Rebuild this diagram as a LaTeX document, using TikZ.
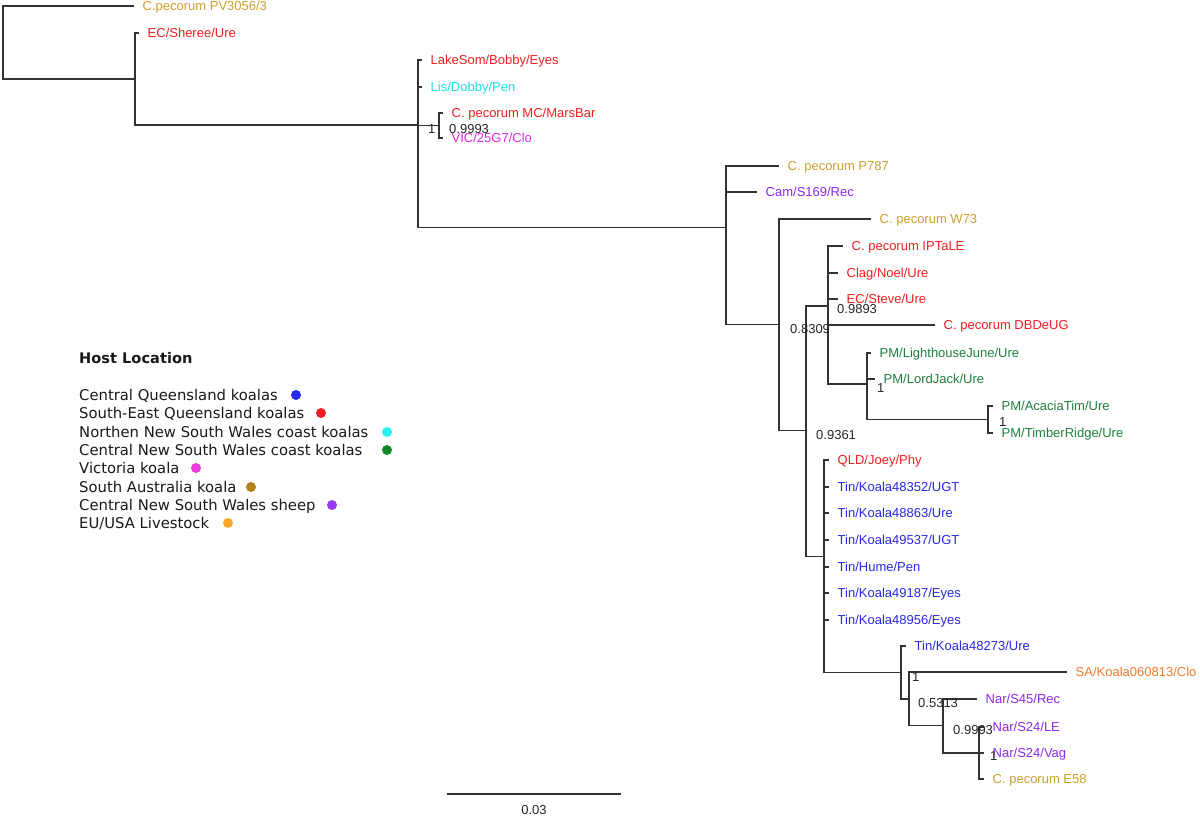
\documentclass[tikz,border=0pt]{standalone}
\usepackage{fontspec}
\setmainfont{Liberation Sans}
\newfontfamily\legendfont{DejaVu Sans}
\usepackage{tikz}

\definecolor{qgold}{RGB}{204,160,44}
\definecolor{qred}{RGB}{240,30,30}
\definecolor{qcyan}{RGB}{30,222,230}
\definecolor{qmagenta}{RGB}{228,40,222}
\definecolor{qgreen}{RGB}{30,128,60}
\definecolor{qblue}{RGB}{40,40,228}
\definecolor{qpurple}{RGB}{140,40,240}
\definecolor{qorange}{RGB}{242,122,40}
\definecolor{dblue}{RGB}{40,40,240}
\definecolor{dred}{RGB}{240,30,36}
\definecolor{dcyan}{RGB}{40,240,236}
\definecolor{dgreen}{RGB}{20,136,44}
\definecolor{dmagenta}{RGB}{240,60,222}
\definecolor{dbrown}{RGB}{180,128,30}
\definecolor{dpurple}{RGB}{150,60,240}
\definecolor{dorange}{RGB}{250,170,40}

\tikzset{
  branch/.style={line width=1.1pt, draw=black!80},
  leaf/.style={anchor=west, inner sep=0pt, xshift=8.5pt, font=\fontsize{13}{15}\selectfont,
    text height=9.3pt, text depth=0pt},
  support/.style={anchor=west, inner sep=0pt, font=\fontsize{13}{15}\selectfont, text=black!85,
    text height=9.3pt, text depth=0pt},
  legend/.style={anchor=west, inner sep=0pt, font=\legendfont\fontsize{14.8}{17}\selectfont,
    text=black!90, text height=10.8pt, text depth=0pt},
}

\begin{document}
\begin{tikzpicture}[x=1pt,y=-1pt]
\useasboundingbox (0,0) rectangle (1200,816);
\foreach \n/\x/\y in {root/3/42, n1/135/79, n2/418/125, n3/439/125.5, n4/726/227.5, n5/779/324.5,
n6/806/430.5, n7/828/306, n8/867/384, n9/988/419.5, n10/824/556.5, n11/901/672.5, n12/909/699,
n13/943/725.5, n14/979/753}
  \coordinate (\n) at (\x,\y);
\foreach \n/\x/\y/\c/\t in {pv/134/6/qgold/{C.pecorum PV3056/3}, sheree/139/33/qred/{EC/Sheree/Ure},
lakesom/422/60/qred/{LakeSom/Bobby/Eyes}, lis/422/87/qcyan/{Lis/Dobby/Pen},
marsbar/443/113/qred/{C. pecorum MC/MarsBar}, vic/443/138/qmagenta/{VIC/25G7/Clo},
p787/779/166/qgold/{C. pecorum P787}, cam/757/192/qpurple/{Cam/S169/Rec},
w73/871/219/qgold/{C. pecorum W73}, iptale/843/246/qred/{C. pecorum IPTaLE},
clag/838/273/qred/{Clag/Noel/Ure}, steve/838/299/qred/{EC/Steve/Ure},
dbdeug/935/325/qred/{C. pecorum DBDeUG}, lighthouse/871/353/qgreen/{PM/LighthouseJune/Ure},
lordjack/875/379/qgreen/{PM/LordJack/Ure}, acacia/993/406/qgreen/{PM/AcaciaTim/Ure},
timber/993/433/qgreen/{PM/TimberRidge/Ure}, joey/829/460/qred/{QLD/Joey/Phy},
ka/829/487/qblue/{Tin/Koala48352/UGT}, kb/829/513/qblue/{Tin/Koala48863/Ure},
kc/829/540/qblue/{Tin/Koala49537/UGT}, hume/829/567/qblue/{Tin/Hume/Pen},
kd/829/593/qblue/{Tin/Koala49187/Eyes}, ke/829/620/qblue/{Tin/Koala48956/Eyes},
kf/906/646/qblue/{Tin/Koala48273/Ure}, sa/1067/672/qorange/{SA/Koala060813/Clo},
sfour/977/699/qpurple/{Nar/S45/Rec}, le/984/727/qpurple/{Nar/S24/LE},
vag/984/753/qpurple/{Nar/S24/Vag}, esix/984/779/qgold/{C. pecorum E58}}
{
  \coordinate (t\n) at (\x,\y);
  \node[leaf,text=\c] (\n) at (t\n) {\t};
}
\foreach \p/\c in {root/tpv, root/n1, n1/tsheree, n1/n2, n2/tlakesom, n2/tlis, n2/n3, n2/n4,
n3/tmarsbar, n3/tvic, n4/tp787, n4/tcam, n4/n5, n5/tw73, n5/n6, n6/n7, n6/n10, n7/tiptale,
n7/tclag, n7/tsteve, n7/tdbdeug, n7/n8, n8/tlighthouse, n8/tlordjack, n8/n9, n9/tacacia,
n9/ttimber, n10/tjoey, n10/tka, n10/tkb, n10/tkc, n10/thume, n10/tkd, n10/tke, n10/n11,
n11/tkf, n11/n12, n12/tsa, n12/n13, n13/tsfour, n13/n14, n14/tle, n14/tvag, n14/tesix}
  \draw[branch] (\p) |- (\c);
\foreach \x/\y/\t [count=\i] in {428/129/1, 449/129/0.9993, 837/309/0.9893, 790/329/0.8309,
877/388/1, 999/422/1, 816/435/0.9361, 912/677/1, 918/703/0.5313, 953/730/0.9993, 990/756/1}
  \node[support] (s\i) at (\x,\y) {\t};
\node[legend,font=\legendfont\bfseries\fontsize{14.6}{17}\selectfont] (title) at (79,358) {Host Location};
\foreach \t/\y/\x/\c [count=\i] in {{Central Queensland koalas}/395/296/dblue,
{South-East Queensland koalas}/413/321/dred, {Northen New South Wales coast koalas}/432/387/dcyan,
{Central New South Wales coast koalas}/450/387/dgreen, {Victoria koala}/468/196/dmagenta,
{South Australia koala}/487/251/dbrown, {Central New South Wales sheep}/505/332/dpurple,
{EU/USA Livestock}/523/228/dorange}
{
  \node[legend] (h\i) at (79,\y) {\t};
  \fill[\c] (\x,\y) circle[radius=5];
}
\coordinate (sbl) at (447,794);
\coordinate (sbr) at (621,794);
\draw[branch] (sbl) -- (sbr);
\node[font=\fontsize{13}{15}\selectfont, text=black!85, inner sep=0pt] (sbt) at (534,810) {0.03};
\end{tikzpicture}
\end{document}
